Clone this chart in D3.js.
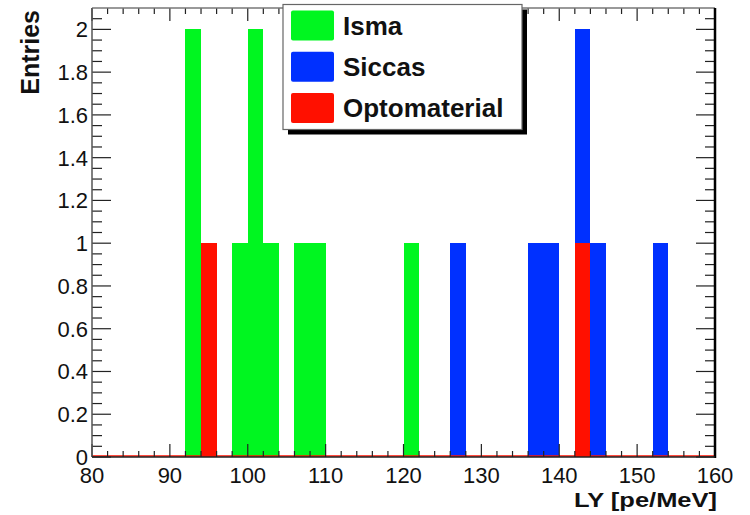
<!DOCTYPE html>
<html>
<head>
<meta charset="utf-8">
<script src="https://cdn.jsdelivr.net/npm/d3@7"></script>
<style>
  body { margin: 0; background: #fff; }
  svg { display: block; }
  text { font-family: "Liberation Sans", Arial, Helvetica, sans-serif; fill: #111; }
</style>
</head>
<body>
<div id="chart"></div>
<script>
// histogram bins: 2 pe/MeV wide, from 80 to 160
var binWidth = 2;
var xRange = [80, 160];
var yRange = [0, 2.1];

// [bin low edge, entries]
var isma = [[92, 2], [98, 1], [100, 2], [102, 1], [106, 1], [108, 1], [120, 1]];
var siccas = [[126, 1], [136, 1], [138, 1], [142, 2], [144, 1], [152, 1]];
var optomaterial = [[94, 1], [142, 1]];

var seriesNames = ["Isma", "Siccas", "Optomaterial"];
var seriesColors = ["#00f620", "#0030ff", "#ff1000"];

var xTicks = [80, 90, 100, 110, 120, 130, 140, 150, 160];
var yTicks = [0, 0.2, 0.4, 0.6, 0.8, 1, 1.2, 1.4, 1.6, 1.8, 2];

var W = 750, H = 515;
var frame = {left: 92, top: 8, right: 715, bottom: 457};

var svg = d3.select("#chart").append("svg")
  .attr("width", W).attr("height", H);

var x = d3.scaleLinear().domain(xRange).range([frame.left, frame.right]);
var y = d3.scaleLinear().domain(yRange).range([frame.bottom, frame.top]);

// bars, drawn in order so red ends on top
var allSeries = [isma, siccas, optomaterial];
allSeries.forEach(function(s, i) {
  svg.append("g").selectAll("rect")
    .data(s)
    .enter().append("rect")
    .attr("x", function(d){ return x(d[0]); })
    .attr("width", function(d){ return x(d[0] + binWidth) - x(d[0]); })
    .attr("y", function(d){ return y(d[1]); })
    .attr("height", function(d){ return y(0) - y(d[1]); })
    .attr("shape-rendering", "crispEdges")
    .style("fill", seriesColors[i]);
});

// red histogram outline along zero
svg.append("line")
  .attr("x1", x(xRange[0])).attr("x2", x(xRange[1]))
  .attr("y1", y(0) - 1).attr("y2", y(0) - 1)
  .style("stroke", seriesColors[2]).style("stroke-width", 1.5);

// ticks (both sides, ROOT style)
var tickColor = "#222";
var yMinor = d3.range(0, 2.1001, 0.05);
var xMinor = d3.range(80, 160.001, 2);
var g = svg.append("g").style("stroke", tickColor).style("stroke-width", 1.2);

yMinor.forEach(function(v) {
  var major = Math.abs(v / 0.2 - Math.round(v / 0.2)) < 1e-6;
  var len = major ? 19 : 10;
  if (Math.abs(v - 2.1) < 1e-6) return;
  g.append("line").attr("x1", frame.left).attr("x2", frame.left + len)
    .attr("y1", y(v)).attr("y2", y(v));
  g.append("line").attr("x1", frame.right).attr("x2", frame.right - len)
    .attr("y1", y(v)).attr("y2", y(v));
});
xMinor.forEach(function(v) {
  var major = v % 10 === 0;
  var len = major ? 13 : 6;
  g.append("line").attr("x1", x(v)).attr("x2", x(v))
    .attr("y1", frame.bottom).attr("y2", frame.bottom - len);
  g.append("line").attr("x1", x(v)).attr("x2", x(v))
    .attr("y1", frame.top).attr("y2", frame.top + len);
});

// frame
svg.append("line").attr("x1", frame.left).attr("x2", frame.right)
  .attr("y1", frame.top).attr("y2", frame.top)
  .style("stroke", "#777").style("stroke-width", 1.5);
svg.append("line").attr("x1", frame.left).attr("x2", frame.left)
  .attr("y1", frame.top).attr("y2", frame.bottom)
  .style("stroke", "#555").style("stroke-width", 1.5);
svg.append("line").attr("x1", frame.right).attr("x2", frame.right)
  .attr("y1", frame.top).attr("y2", frame.bottom + 1)
  .style("stroke", "#000").style("stroke-width", 2.5);
svg.append("line").attr("x1", frame.left).attr("x2", frame.right)
  .attr("y1", frame.bottom).attr("y2", frame.bottom)
  .style("stroke", "#222").style("stroke-width", 1.5);

// tick labels
svg.selectAll("text.ylab")
  .data(yTicks)
  .enter().append("text")
  .attr("class", "ylab")
  .attr("x", 88)
  .attr("y", function(d){ return y(d); })
  .attr("dy", "0.36em")
  .style("text-anchor", "end")
  .style("font-size", "22px")
  .text(function(d){ return d3.format("")(d); });

svg.selectAll("text.xlab")
  .data(xTicks)
  .enter().append("text")
  .attr("class", "xlab")
  .attr("x", function(d){ return x(d); })
  .attr("y", 483)
  .style("text-anchor", "middle")
  .style("font-size", "22px")
  .text(function(d){ return d; });

// axis titles
svg.append("text")
  .attr("x", frame.right + 2).attr("y", 507)
  .attr("textLength", 143)
  .attr("lengthAdjust", "spacingAndGlyphs")
  .style("text-anchor", "end")
  .style("font-size", "20.5px").style("font-weight", "bold")
  .text("LY [pe/MeV]");

svg.append("text")
  .attr("transform", "translate(39,10) rotate(-90)")
  .style("text-anchor", "end")
  .style("font-size", "25px").style("font-weight", "bold")
  .text("Entries");

// legend
var leg = {x: 283, y: 4.5, w: 239, h: 125};
svg.append("rect")
  .attr("x", leg.x + 5).attr("y", leg.y + 5)
  .attr("width", leg.w).attr("height", leg.h)
  .style("fill", "#000");
svg.append("rect")
  .attr("x", leg.x).attr("y", leg.y)
  .attr("width", leg.w).attr("height", leg.h)
  .style("fill", "#fff").style("stroke", "#666").style("stroke-width", 1.2);

var entry = svg.selectAll("g.entry")
  .data(seriesNames)
  .enter().append("g")
  .attr("class", "entry")
  .attr("transform", function(d, i){ return "translate(0," + (leg.y + 21 + i * 41.3) + ")"; });

entry.append("rect")
  .attr("x", 291).attr("y", -15)
  .attr("width", 43).attr("height", 30)
  .attr("rx", 2)
  .style("fill", function(d, i){ return seriesColors[i]; });

entry.append("text")
  .attr("x", 343).attr("y", 0)
  .attr("dy", "0.36em")
  .style("font-size", "26px").style("font-weight", "bold")
  .text(function(d){ return d; });
</script>
</body>
</html>
